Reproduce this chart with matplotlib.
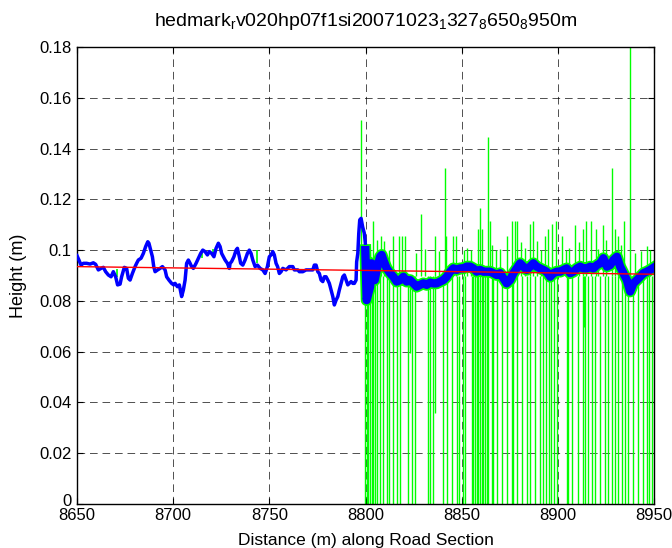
import numpy as np
import matplotlib
matplotlib.use("Agg")
import matplotlib.pyplot as plt
from matplotlib.transforms import ScaledTranslation

plt.rcParams['font.family'] = ['Liberation Sans', 'DejaVu Sans']
plt.rcParams['mathtext.fontset'] = 'custom'
plt.rcParams['mathtext.rm'] = 'Liberation Sans'
plt.rcParams['mathtext.it'] = 'Liberation Sans'
plt.rcParams['mathtext.default'] = 'regular'
plt.rcParams['lines.scale_dashes'] = False

# Filtered profile (blue), smooth part before 8800 m
blue_x_a = [8650.0, 8651.0, 8652.1, 8653.3, 8655.0, 8656.8, 8658.5, 8659.7, 8661.1, 8662.5,
            8663.7, 8664.9, 8666.3, 8667.7, 8668.9, 8670.1, 8671.1, 8672.4, 8673.2, 8674.6,
            8675.8, 8676.7, 8677.6, 8678.8, 8680.2, 8681.0, 8681.9, 8683.3, 8684.5, 8685.7,
            8686.8, 8687.4, 8688.5, 8689.2, 8689.9, 8690.6, 8691.9, 8693.2, 8694.4, 8695.8,
            8696.6, 8697.8, 8699.2, 8700.3, 8701.0, 8702.2, 8703.2, 8704.4, 8705.3, 8706.2,
            8707.0, 8707.9, 8708.8, 8709.6, 8710.5, 8711.9, 8713.1, 8714.3, 8715.4, 8716.6,
            8717.8, 8718.8, 8720.0, 8721.2, 8722.3, 8723.5, 8724.4, 8725.2, 8726.1, 8727.0,
            8728.2, 8729.2, 8729.6, 8730.4, 8731.6, 8732.7, 8733.4, 8734.4, 8735.1, 8736.2,
            8737.4, 8738.6, 8739.6, 8740.5, 8741.4, 8742.6, 8743.8, 8745.2, 8746.6, 8747.8,
            8749.0, 8750.0, 8750.9, 8751.8, 8752.6, 8753.5, 8754.3, 8755.2, 8756.1, 8757.0,
            8758.7, 8760.4, 8762.2, 8763.0, 8764.8, 8765.6, 8767.4, 8769.1, 8770.8, 8772.6,
            8773.4, 8774.3, 8775.2, 8776.0, 8776.9, 8777.8, 8778.6, 8779.5, 8780.4, 8781.2,
            8782.1, 8783.0, 8783.8, 8784.7, 8785.6, 8786.4, 8787.3, 8788.2, 8789.0, 8789.9,
            8790.8, 8791.6, 8792.5, 8793.4, 8794.2, 8795.1, 8795.4, 8796.0, 8796.5, 8797.0,
            8797.7, 8798.5, 8799.4, 8799.9]
blue_y_a = [0.0978, 0.0961, 0.0941, 0.0948, 0.0948, 0.0945, 0.0950, 0.0944, 0.0922, 0.0928,
            0.0932, 0.0915, 0.0902, 0.0895, 0.0915, 0.0895, 0.0863, 0.0866, 0.0895, 0.0932,
            0.0928, 0.0889, 0.0882, 0.0908, 0.0935, 0.0948, 0.0961, 0.0968, 0.0987, 0.1014,
            0.1033, 0.1027, 0.0994, 0.0974, 0.0935, 0.0915, 0.0922, 0.0928, 0.0935, 0.0922,
            0.0895, 0.0882, 0.0869, 0.0863, 0.0869, 0.0856, 0.0863, 0.0817, 0.0843, 0.0882,
            0.0948, 0.0961, 0.0948, 0.0935, 0.0928, 0.0948, 0.0968, 0.0987, 0.1000, 0.0994,
            0.0981, 0.0994, 0.0987, 0.0974, 0.1007, 0.1027, 0.1014, 0.0987, 0.0974, 0.0961,
            0.0948, 0.0928, 0.0948, 0.0955, 0.0974, 0.1000, 0.1007, 0.0974, 0.0948, 0.0941,
            0.0961, 0.0987, 0.1000, 0.0987, 0.0961, 0.0935, 0.0941, 0.0928, 0.0922, 0.0908,
            0.0935, 0.0974, 0.0981, 0.0994, 0.0981, 0.0948, 0.0935, 0.0908, 0.0915, 0.0928,
            0.0922, 0.0935, 0.0935, 0.0922, 0.0922, 0.0915, 0.0915, 0.0922, 0.0922, 0.0922,
            0.0941, 0.0941, 0.0915, 0.0908, 0.0882, 0.0876, 0.0895, 0.0895, 0.0882, 0.0869,
            0.0843, 0.0817, 0.0784, 0.0803, 0.0817, 0.0843, 0.0869, 0.0895, 0.0902, 0.0882,
            0.0863, 0.0869, 0.0876, 0.0869, 0.0869, 0.0882, 0.0954, 0.0987, 0.1066, 0.1119,
            0.1125, 0.1092, 0.1066, 0.1027]

# Filtered profile (blue), noisy part after 8800 m
blue_x_b = [8799.9, 8800.6, 8801.5, 8802.4, 8803.2, 8804.1, 8804.8, 8805.8, 8806.7, 8807.6,
            8808.4, 8809.3, 8811.0, 8812.8, 8814.5, 8816.2, 8818.0, 8819.7, 8821.4, 8823.2,
            8824.9, 8826.6, 8828.4, 8830.1, 8831.8, 8833.6, 8835.3, 8837.0, 8838.8, 8840.5,
            8842.2, 8844.0, 8845.7, 8847.4, 8849.2, 8850.9, 8852.6, 8854.4, 8856.1, 8857.8,
            8859.6, 8861.3, 8863.0, 8864.8, 8866.5, 8868.2, 8870.0, 8871.7, 8873.4, 8875.2,
            8876.9, 8878.6, 8880.4, 8882.1, 8883.8, 8885.6, 8887.3, 8889.0, 8890.8, 8892.5,
            8894.2, 8896.0, 8897.7, 8899.4, 8901.2, 8902.9, 8904.6, 8906.4, 8908.1, 8909.9,
            8911.6, 8913.3, 8915.1, 8916.8, 8918.5, 8920.3, 8922.0, 8923.7, 8925.5, 8927.2,
            8928.9, 8930.7, 8932.4, 8934.1, 8935.9, 8937.6, 8939.3, 8941.1, 8942.8, 8944.5,
            8946.2, 8948.0, 8949.2]
blue_y_b = [0.1000, 0.0803, 0.0830, 0.0856, 0.0948, 0.0909, 0.0882, 0.0922, 0.0948, 0.0974,
            0.0981, 0.0961, 0.0928, 0.0909, 0.0895, 0.0876, 0.0882, 0.0895, 0.0876, 0.0882,
            0.0869, 0.0856, 0.0863, 0.0869, 0.0863, 0.0872, 0.0869, 0.0869, 0.0876, 0.0882,
            0.0895, 0.0915, 0.0928, 0.0922, 0.0928, 0.0928, 0.0935, 0.0935, 0.0928, 0.0915,
            0.0922, 0.0915, 0.0915, 0.0915, 0.0909, 0.0902, 0.0909, 0.0889, 0.0869, 0.0882,
            0.0909, 0.0928, 0.0948, 0.0935, 0.0922, 0.0935, 0.0948, 0.0935, 0.0928, 0.0922,
            0.0915, 0.0895, 0.0909, 0.0915, 0.0915, 0.0922, 0.0928, 0.0909, 0.0915, 0.0928,
            0.0935, 0.0928, 0.0928, 0.0935, 0.0928, 0.0941, 0.0948, 0.0968, 0.0935, 0.0941,
            0.0961, 0.0974, 0.0935, 0.0909, 0.0882, 0.0837, 0.0869, 0.0882, 0.0895, 0.0909,
            0.0915, 0.0922, 0.0928]

# Raw profile (green): dropouts to zero and upward spikes
green_base = 0.09
green_drop_x = [8799.8, 8800.6, 8801.5, 8802.4, 8803.2, 8804.1, 8805.0, 8806.2, 8807.6, 8809.0,
                8811.4, 8812.4, 8814.2, 8816.2, 8818.0, 8822.3, 8824.0, 8825.8, 8832.7, 8833.6,
                8835.0, 8840.5, 8842.2, 8844.8, 8847.4, 8848.8, 8850.6, 8851.8, 8855.2, 8856.1,
                8857.0, 8857.8, 8858.7, 8859.6, 8860.4, 8861.3, 8862.2, 8863.0, 8863.9, 8865.7,
                8866.5, 8868.2, 8870.9, 8873.4, 8876.0, 8876.9, 8878.6, 8881.3, 8883.8, 8885.6,
                8888.2, 8890.8, 8892.2, 8893.9, 8895.6, 8896.3, 8898.0, 8899.4, 8904.6, 8905.5,
                8907.2, 8910.7, 8913.0, 8914.2, 8915.9, 8917.6, 8919.4, 8922.0, 8924.6, 8926.3,
                8928.1, 8929.8, 8931.5, 8933.3, 8935.0, 8936.7, 8939.3, 8941.9, 8944.5, 8946.2,
                8947.6, 8948.9]
green_dip_x = [8823.2, 8836.2, 8913.5]
green_dip_low = [0.0595, 0.0360, 0.0698]
green_spike_x = [8797.7, 8804.1, 8805.8, 8807.9, 8809.5, 8814.2, 8817.5, 8819.0, 8820.5, 8828.7,
                 8836.2, 8841.4, 8841.9, 8845.4, 8847.0, 8858.5, 8859.6, 8860.8, 8863.9, 8864.7,
                 8873.4, 8876.3, 8877.5, 8879.0, 8885.6, 8887.3, 8893.4, 8895.0, 8897.0, 8899.0,
                 8902.2, 8909.0, 8913.3, 8914.6, 8917.1, 8919.9, 8923.4, 8928.4, 8929.8, 8931.5,
                 8934.4, 8937.6, 8946.5,
                 8812.0, 8826.0, 8831.0, 8838.0, 8851.0, 8853.0, 8855.0, 8866.0, 8868.0, 8870.0,
                 8881.0, 8883.0, 8889.0, 8891.0, 8904.0, 8906.0, 8911.0, 8921.0, 8925.0, 8933.0,
                 8940.0, 8943.0, 8948.0]
green_spike_top = [0.1512, 0.1115, 0.1040, 0.1055, 0.1035, 0.1055, 0.1055, 0.1055, 0.1055, 0.1141,
                   0.1055, 0.1325, 0.1055, 0.1055, 0.1055, 0.1082, 0.1164, 0.1082, 0.1444, 0.1115,
                   0.1055, 0.1115, 0.1115, 0.1115, 0.1102, 0.1115, 0.1055, 0.1082, 0.1102, 0.1115,
                   0.1055, 0.1100, 0.1082, 0.1115, 0.1115, 0.1082, 0.1100, 0.1325, 0.1082, 0.1055,
                   0.1115, 0.1850, 0.1015,
                   0.1000, 0.0990, 0.1005, 0.0995, 0.1000, 0.1010, 0.1000, 0.1020, 0.1000, 0.1005,
                   0.1030, 0.1010, 0.1035, 0.1000, 0.1000, 0.1010, 0.1030, 0.1005, 0.1040, 0.1020,
                   0.0990, 0.0995, 0.1000]
# small raw deviations visible beside the smooth part
green_small_x = [8670.6, 8714.8, 8720.9, 8723.5, 8743.4]
green_small_lo = [0.0894, 0.0970, 0.0990, 0.1020, 0.0948]
green_small_hi = [0.0926, 0.0994, 0.1003, 0.1033, 0.1000]

# Linear fit (red)
red_x = [8650, 8950]
red_y = [0.0935, 0.0905]

x_ticks = [8650, 8700, 8750, 8800, 8850, 8900, 8950]
y_ticks = [0, 0.02, 0.04, 0.06, 0.08, 0.1, 0.12, 0.14, 0.16, 0.18]
y_tick_labels = ['0', '0.02', '0.04', '0.06', '0.08', '0.1', '0.12', '0.14', '0.16', '0.18']

fig = plt.figure(figsize=(6.72, 5.48), dpi=100)
ax = fig.add_axes([77 / 672, 44 / 548, 577 / 672, 457 / 548])

green = (0, 1, 0)
blue = (0, 0, 1)

ax.vlines(green_drop_x, 0, green_base, colors=[green], linewidth=1.0, zorder=2)
ax.vlines(green_dip_x, green_dip_low, green_base, colors=[green], linewidth=1.0, zorder=2)
ax.vlines(green_spike_x, green_base, green_spike_top, colors=[green], linewidth=1.0, zorder=2)
ax.vlines(green_small_x, green_small_lo, green_small_hi, colors=[green], linewidth=1.2, zorder=2)
ax.plot(blue_x_b, blue_y_b, color=green, linewidth=8.5, zorder=2)

ax.plot(blue_x_a, blue_y_a, color=blue, linewidth=2.5, zorder=3)
ax.plot(blue_x_b, blue_y_b, color=blue, linewidth=6, zorder=3)
ax.plot(red_x, red_y, color=(1, 0, 0), linewidth=1.0, zorder=4)

ax.set_xlim(8650, 8950)
ax.set_ylim(0, 0.18)
ax.set_xticks(x_ticks)
ax.set_yticks(y_ticks)
ax.set_yticklabels(y_tick_labels)
ax.tick_params(direction='in', length=4, width=0.8, labelsize=12, top=True, right=True)
ax.tick_params(axis='x', pad=3)
ax.tick_params(axis='y', pad=4)
ax.grid(True, color='k', linestyle=(0, (5.5, 3.5)), linewidth=0.6, alpha=0.8)
ax.set_axisbelow(True)
for s in ax.spines.values():
    s.set_linewidth(1.0)

# MATLAB puts the bottom "0" a little above the axis line
zero_lbl = ax.get_yticklabels()[0]
zero_lbl.set_transform(zero_lbl.get_transform() + ScaledTranslation(0, 4 / 100, fig.dpi_scale_trans))

ax.set_xlabel('Distance (m) along Road Section', fontsize=12.5, labelpad=7)
ax.set_ylabel('Height (m)', fontsize=13, labelpad=9)
ax.set_title(r'hedmark$_r$v020hp07f1si20071023$_1$327$_8$650$_8$950m', fontsize=14, pad=15)

fig.savefig('out.png', dpi=100)
